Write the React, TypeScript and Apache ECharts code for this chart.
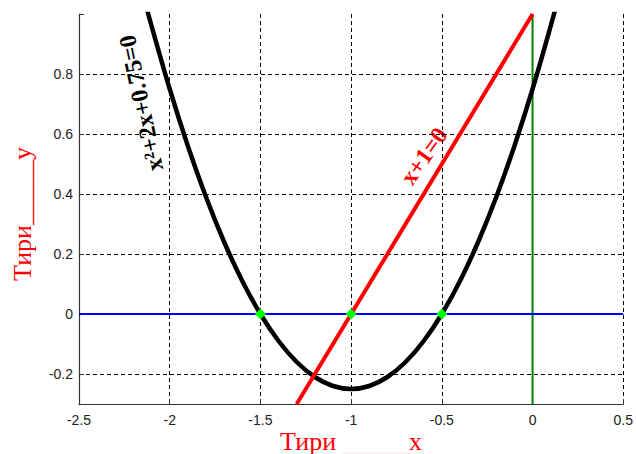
import React, { useEffect, useRef } from "react";
import * as echarts from "echarts";

// Parabola y = x^2 + 2x + 0.75
const parabolaX = [-2.15, -2.1, -2.0, -1.9, -1.8, -1.7, -1.6, -1.5, -1.4, -1.3, -1.2, -1.1, -1.0, -0.9, -0.8, -0.7, -0.6, -0.5, -0.4, -0.3, -0.2, -0.1, 0, 0.1, 0.15];
const parabolaY = [1.07, 0.96, 0.75, 0.56, 0.39, 0.24, 0.11, 0, -0.09, -0.16, -0.21, -0.24, -0.25, -0.24, -0.21, -0.16, -0.09, 0, 0.11, 0.24, 0.39, 0.56, 0.75, 0.96, 1.07];
// Line y = x + 1
const lineX = [-1.3, 0];
const lineY = [-0.3, 1.0];
// Horizontal zero line
const zeroX = [-2.5, 0.5];
const zeroY = [0, 0];
// Vertical line at x = 0
const vertX = [0, 0];
const vertY = [-0.3, 1.0];
// Roots
const rootsX = [-1.5, -1.0, -0.5];
const rootsY = [0, 0, 0];

const pairs = (xs: number[], ys: number[]) => xs.map((x, i) => [x, ys[i]]);

export default function App() {
  const ref = useRef<HTMLDivElement>(null);
  useEffect(() => {
    if (!ref.current) return;
    const chart = echarts.init(ref.current, null, { renderer: "svg" });
    const axisFont = { color: "#222", fontSize: 14, fontFamily: "Liberation Sans" };
    const dashed = { type: [4, 3] as any, color: "#000", width: 1 };
    chart.setOption({
      animation: false,
      backgroundColor: "#fff",
      grid: { left: 79, right: 10, top: 14, bottom: 50, containLabel: false },
      xAxis: {
        type: "value",
        min: -2.5,
        max: 0.5,
        interval: 0.5,
        axisLine: { onZero: false, lineStyle: { color: "#333", width: 1.2 } },
        axisTick: { inside: true, length: 5, lineStyle: { color: "#333" } },
        axisLabel: { ...axisFont, margin: 9 },
        splitLine: { show: true, showMinLine: false, showMaxLine: true, lineStyle: dashed },
      },
      yAxis: {
        type: "value",
        min: -0.3,
        max: 1.0,
        splitNumber: 6,
        axisLine: { show: true, onZero: false, lineStyle: { color: "#333", width: 1.2 } },
        axisTick: { show: true, inside: true, length: 5, lineStyle: { color: "#333" } },
        axisLabel: {
          ...axisFont,
          margin: 6,
          formatter: (v: number) =>
            v > -0.25 && v < 0.85 ? String(parseFloat(v.toFixed(1))) : "",
        },
        splitLine: { show: true, showMinLine: false, showMaxLine: false, lineStyle: dashed },
      },
      series: [
        {
          type: "line",
          data: pairs(vertX, vertY),
          symbol: "none",
          lineStyle: { color: "#008000", width: 2 },
        },
        {
          type: "line",
          data: pairs(zeroX, zeroY),
          symbol: "none",
          lineStyle: { color: "#0000ff", width: 2 },
        },
        {
          type: "line",
          data: pairs(parabolaX, parabolaY),
          symbol: "none",
          smooth: 0.3,
          clip: true,
          lineStyle: { color: "#000", width: 4.5 },
        },
        {
          type: "line",
          data: pairs(lineX, lineY),
          symbol: "none",
          clip: true,
          lineStyle: { color: "#ff0000", width: 4 },
        },
        {
          type: "line",
          data: pairs(rootsX, rootsY),
          z: 10,
          showSymbol: true,
          showAllSymbol: true,
          symbol: "diamond",
          symbolSize: 11,
          itemStyle: { color: "#00ff00", borderWidth: 0 },
          lineStyle: { width: 0, opacity: 0 },
        },
      ],
      graphic: [
        {
          type: "text",
          x: 141,
          y: 103,
          rotation: (102 * Math.PI) / 180,
          style: {
            text: "x²+2x+0.75=0",
            fill: "#000",
            fontSize: 24,
            fontWeight: "bold",
            fontFamily: "Liberation Serif",
            align: "center",
            verticalAlign: "middle",
          },
        },
        {
          type: "text",
          x: 424,
          y: 156,
          rotation: (55 * Math.PI) / 180,
          style: {
            text: "x+1=0",
            fill: "#ff0000",
            fontSize: 24,
            fontWeight: "bold",
            fontFamily: "Liberation Serif",
            align: "center",
            verticalAlign: "middle",
          },
        },
        {
          type: "text",
          x: 22,
          y: 214,
          rotation: Math.PI / 2,
          style: {
            text: "Тири_____y",
            fill: "#ff0000",
            fontSize: 26,
            fontFamily: "Liberation Serif",
            align: "center",
            verticalAlign: "middle",
          },
        },
        {
          type: "text",
          x: 280,
          y: 441,
          style: {
            text: "Тири",
            fill: "#ff0000",
            fontSize: 26,
            fontFamily: "Liberation Serif",
            align: "left",
            verticalAlign: "middle",
          },
        },
        {
          type: "text",
          x: 409,
          y: 441,
          style: {
            text: "x",
            fill: "#ff0000",
            fontSize: 26,
            fontFamily: "Liberation Serif",
            align: "left",
            verticalAlign: "middle",
          },
        },
        {
          type: "line",
          shape: { x1: 342, y1: 453, x2: 410, y2: 453 },
          style: { stroke: "#fbe3e3", lineWidth: 1 },
        },
      ],
    });
    return () => chart.dispose();
  }, []);
  return (
    <div
      ref={ref}
      style={{ position: "absolute", left: 0, top: 0, width: 636, height: 454 }}
    />
  );
}
